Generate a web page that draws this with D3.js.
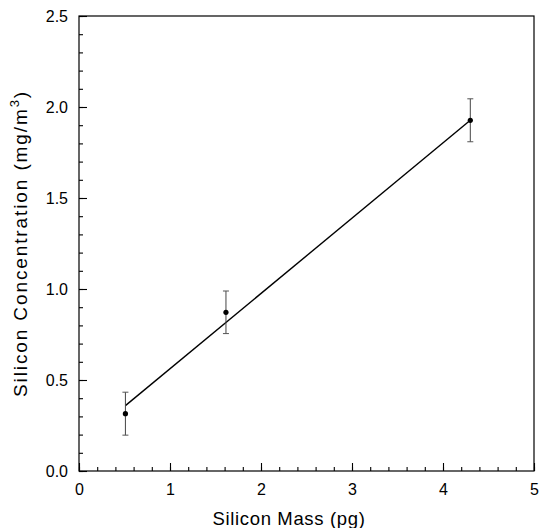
<!DOCTYPE html>
<html><head><meta charset="utf-8">
<script src="https://cdn.jsdelivr.net/npm/d3@7"></script>
<style>body{margin:0;background:#fff}svg{display:block}text{font-family:"Liberation Sans",Arial,sans-serif;fill:#000}</style>
</head><body>
<svg id="c" width="539" height="528"></svg>
<script>
const massX = [0.51, 1.615, 4.30];
const concY = [0.315, 0.872, 1.927];
const errY = [0.118, 0.117, 0.118];
const fitLine = [[0.51, 0.359], [4.30, 1.927]];
const xTicks = [0, 1, 2, 3, 4, 5];
const yTicks = [0.0, 0.5, 1.0, 1.5, 2.0, 2.5];

const svg = d3.select("#c");
const L = 79, R = 534, T = 16, B = 471;
const x = d3.scaleLinear().domain([0, 5]).range([L, R]);
const y = d3.scaleLinear().domain([0, 2.5]).range([B, T]);

// frame
svg.append("rect").attr("x", L).attr("y", T).attr("width", R - L).attr("height", B - T)
  .attr("fill", "none").attr("stroke", "#000").attr("stroke-width", 1.2);

// axes with inward ticks
svg.append("g").attr("transform", `translate(0,${B})`)
  .call(d3.axisBottom(x).tickValues(d3.range(0, 5.001, 0.2)).tickSize(-4).tickFormat(""));
svg.append("g").attr("transform", `translate(0,${B})`)
  .call(d3.axisBottom(x).tickValues(xTicks).tickSize(-8).tickPadding(13).tickFormat(d3.format("d")));
svg.append("g").attr("transform", `translate(${L},0)`)
  .call(d3.axisLeft(y).tickValues(d3.range(0, 2.501, 0.1)).tickSize(-4).tickFormat(""));
svg.append("g").attr("transform", `translate(${L},0)`)
  .call(d3.axisLeft(y).tickValues(yTicks).tickSize(-8).tickPadding(11).tickFormat(d3.format(".1f")));
svg.selectAll(".domain").remove();
svg.selectAll(".tick line").attr("stroke", "#000").attr("stroke-width", 1.1);
svg.selectAll(".tick text").attr("font-size", 16).attr("font-family", "Liberation Sans, Arial, sans-serif").attr("fill", "#000");

// fit line
svg.append("line")
  .attr("x1", x(fitLine[0][0])).attr("y1", y(fitLine[0][1]))
  .attr("x2", x(fitLine[1][0])).attr("y2", y(fitLine[1][1]))
  .attr("stroke", "#000").attr("stroke-width", 1.4);

// error bars and points
const pts = massX.map((m, i) => ({m, c: concY[i], e: errY[i]}));
const g = svg.append("g");
pts.forEach(p => {
  g.append("line").attr("x1", x(p.m)).attr("x2", x(p.m)).attr("y1", y(p.c - p.e)).attr("y2", y(p.c + p.e))
    .attr("stroke", "#444").attr("stroke-width", 1);
  [p.c - p.e, p.c + p.e].forEach(v => {
    g.append("line").attr("x1", x(p.m) - 3).attr("x2", x(p.m) + 3).attr("y1", y(v)).attr("y2", y(v))
      .attr("stroke", "#555").attr("stroke-width", 1);
  });
  g.append("circle").attr("cx", x(p.m)).attr("cy", y(p.c)).attr("r", 2.6).attr("fill", "#000");
});

function fitWidth(sel, target, nChars) {
  const len = sel.node().getComputedTextLength();
  const ls = Math.max(0, (target - len) / nChars);
  sel.attr("letter-spacing", ls);
}

// axis titles
const xt = svg.append("text").attr("x", 289).attr("y", 525).attr("text-anchor", "middle")
  .attr("font-size", 18.5).text("Silicon Mass (pg)");
fitWidth(xt, 153, 17);
const yt = svg.append("text").attr("transform", `translate(27,${(T + B) / 2}) rotate(-90)`)
  .attr("text-anchor", "middle").attr("font-size", 19);
yt.append("tspan").text("Silicon Concentration (mg/m");
yt.append("tspan").attr("font-size", 13).attr("dy", -8).text("3");
yt.append("tspan").attr("dy", 8).text(")");
fitWidth(yt, 307, 29);
</script>
</body></html>
